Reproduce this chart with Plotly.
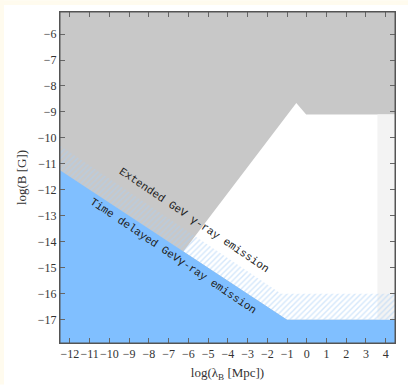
import plotly.graph_objects as go

# ---- data (log10 values) ----
x_range = [-12.5, 4.47]
y_range = [-17.9, -5.15]

# lower (blue) constraint: time-delayed GeV emission
blue_x = [-12.5, -1.0, 4.47]
blue_y = [-11.25, -17.0, -17.0]

# upper edge of hatched band: extended GeV emission
hatch_x = [-12.5, -1.3, 4.47]
hatch_y = [-10.3, -16.0, -16.0]

# allowed (white) region boundary
allowed_x = [-6.25, -0.53, -0.03, 4.47, 4.47, -1.0, -6.25]
allowed_y = [-14.38, -8.66, -9.1, -9.1, -17.0, -17.0, -14.38]

# light grey strip on the right
strip_x = [3.58, 4.47, 4.47, 3.58, 3.58]
strip_y = [-9.1, -9.1, -17.0, -17.0, -9.1]

x_ticks = list(range(-12, 5))
y_ticks = list(range(-17, -5))

GREY = "#c8c8c8"
BLUE = "#80bfff"
HATCH = "#a9d0f7"

fig = go.Figure()

# excluded (grey) background over the full frame
gx = [x_range[0], x_range[1], x_range[1], x_range[0], x_range[0]]
gy = [y_range[0], y_range[0], y_range[1], y_range[1], y_range[0]]
fig.add_trace(go.Scatter(x=gx, y=gy, fill="toself", fillcolor=GREY,
                         line=dict(width=0), mode="lines", hoverinfo="skip", showlegend=False))
# white allowed region
fig.add_trace(go.Scatter(x=allowed_x, y=allowed_y, fill="toself", fillcolor="white",
                         line=dict(width=0), mode="lines", hoverinfo="skip", showlegend=False))
# light grey strip
fig.add_trace(go.Scatter(x=strip_x, y=strip_y, fill="toself", fillcolor="#f3f3f3",
                         line=dict(width=0), mode="lines", hoverinfo="skip", showlegend=False))
# hatched band
band_x = hatch_x + blue_x[::-1] + [hatch_x[0]]
band_y = hatch_y + blue_y[::-1] + [hatch_y[0]]
fig.add_trace(go.Scatter(x=band_x, y=band_y, fill="toself", fillcolor="rgba(0,0,0,0)",
                         fillpattern=dict(shape="/", fgcolor=HATCH, bgcolor="rgba(0,0,0,0)",
                                          size=4, solidity=0.35),
                         line=dict(width=0), mode="lines", hoverinfo="skip", showlegend=False))
# blue region
bx = blue_x + [x_range[1], x_range[0], blue_x[0]]
by = blue_y + [y_range[0], y_range[0], blue_y[0]]
fig.add_trace(go.Scatter(x=bx, y=by, fill="toself", fillcolor=BLUE,
                         line=dict(width=0), mode="lines", hoverinfo="skip", showlegend=False))

# invisible trace to activate the mirrored top/right axes
fig.add_trace(go.Scatter(x=[x_range[0]], y=[y_range[0]], xaxis="x2", yaxis="y2",
                         mode="markers", marker=dict(opacity=0), hoverinfo="skip",
                         showlegend=False))

txt_font = dict(family="Liberation Mono, DejaVu Sans Mono, monospace", size=11, color="#222")
fig.add_annotation(x=-5.73, y=-13.16, text="Extended GeV γ-ray emission", showarrow=False,
                   textangle=34, font=txt_font)
fig.add_annotation(x=-6.78, y=-14.56, text="Time delayed GeVγ-ray emission", showarrow=False,
                   textangle=34, font=txt_font)

# cream page edge (left and top), outside the plotting frame
W = 335.0
H = 336.0
CREAM = "#fffbee"
fig.add_shape(type="rect", xref="paper", yref="paper",
              x0=-60 / W, x1=-56 / W, y0=-42 / H, y1=1 + 12 / H,
              fillcolor=CREAM, line=dict(width=0), layer="below")
fig.add_shape(type="rect", xref="paper", yref="paper",
              x0=-60 / W, x1=1 + 13 / W, y0=1 + 7 / H, y1=1 + 12 / H,
              fillcolor=CREAM, line=dict(width=0), layer="below")
# frame
fig.add_shape(type="rect", xref="paper", yref="paper", x0=0, x1=1, y0=0, y1=1,
              line=dict(color="#555", width=1), fillcolor="rgba(0,0,0,0)", layer="above")

axis_common = dict(showgrid=False, zeroline=False, showline=True, linecolor="#555",
                   linewidth=1, ticks="inside", ticklen=5,
                   tickcolor="#666", tickangle=0,
                   tickfont=dict(family="Liberation Serif, serif", size=12, color="#333"))

fig.update_layout(
    width=408, height=390,
    margin=dict(l=60, r=13, t=12, b=42),
    paper_bgcolor="white",
    plot_bgcolor=GREY,
    xaxis=dict(range=x_range, tickvals=x_ticks, **axis_common,
               title=dict(text="log(λ<sub>B</sub> [Mpc])", standoff=7,
                          font=dict(family="Liberation Serif, serif", size=13, color="#333"))),
    yaxis=dict(range=y_range, tickvals=y_ticks, **axis_common,
               title=dict(text="log(B [G])", standoff=8,
                          font=dict(family="Liberation Serif, serif", size=13, color="#333"))),
    xaxis2=dict(range=x_range, tickvals=x_ticks, overlaying="x", side="top", anchor="y",
                showticklabels=False, **axis_common),
    yaxis2=dict(range=y_range, tickvals=y_ticks, overlaying="y", side="right", anchor="x",
                showticklabels=False, **axis_common),
)

fig.write_html("out.html", config={"displayModeBar": False},
               post_script="document.body.style.margin='0';")
